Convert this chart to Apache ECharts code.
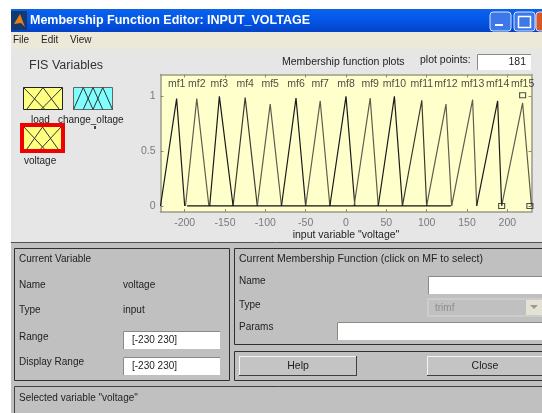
<!DOCTYPE html>
<html>
<head>
<meta charset="utf-8">
<script src="https://cdn.jsdelivr.net/npm/echarts@6/dist/echarts.min.js"></script>
<style>
html,body{margin:0;padding:0;background:#fff}
#main{width:542px;height:413px}
</style>
</head>
<body>
<div id="main"></div>
<script>
// values
const mfNames = ['mf1','mf2','mf3','mf4','mf5','mf6','mf7','mf8','mf9','mf10','mf11','mf12','mf13','mf14','mf15'];
const mfLeft  = [-230,-199,-169,-140,-110,-80,-50,-20,10,40,70,100,131,162,193];
const mfPeak  = [-210,-185,-157,-125,-94,-62,-32,0,30,60,94,124,157,188,219];
const mfRight = [-200,-170,-140,-110,-80,-50,-20,11,40,70,100,131,162,193,230];
const mfTop   = [0.98,0.98,1,0.99,0.93,0.985,0.96,1,0.985,1,0.965,0.93,0.97,0.96,0.94];
const baseX = [-197,130];
const handleX = [193,228,219];
const handleY = [0,0,1.01];
const xTicks = [-200,-150,-100,-50,0,50,100,150,200];
const yTicks = [0,0.5,1];
const labelLevel = 1.11;

// little icons in the FIS variables box
const iconLoad = [[[0,1],[0.55,0]],[[0.08,0],[0.5,1],[0.92,0]],[[0.45,0],[1,1]]];
const iconChange = [[[0,0],[0.25,1],[0.5,0]],[[0.25,0],[0.5,1],[0.75,0]],[[0.5,0],[0.75,1],[1,0]]];
const iconVoltage = [[[0,1],[0.55,0]],[[0.08,0],[0.5,1],[0.92,0]],[[0.45,0],[1,1]]];

const FONT = '"Liberation Sans", Arial, sans-serif';
const chart = echarts.init(document.getElementById('main'));

let gfx = [];
function box(x,y,w,h,fill,stroke,z){
    gfx.push({type:'rect',z:z||-10,silent:true,shape:{x:x,y:y,width:w,height:h},
        style:{fill:fill,stroke:stroke||null,lineWidth:stroke?1:0}});
}
function txt(x,y,s,size,color,align,weight){
    gfx.push({type:'text',z:-5,silent:true,x:x,y:y,style:{text:s,font:(weight||'normal')+' '+(size||10.5)+'px '+FONT,
        fill:color||'#222',textAlign:align||'left',textVerticalAlign:'middle'}});
}
function ln(x1,y1,x2,y2,c,z){
    gfx.push({type:'line',z:z||-8,silent:true,shape:{x1:x1,y1:y1,x2:x2,y2:y2},style:{stroke:c,lineWidth:1}});
}
// sunken white edit box
function edit(x,y,w,h,fill){
    box(x,y,w,h,fill||'#fff',null,-9);
    ln(x+.5,y+.5,x+w,y+.5,'#8a8a80');
    ln(x+.5,y+.5,x+.5,y+h,'#8a8a80');
}
// raised push button
function button(x,y,w,h,s){
    box(x,y,w,h,'#c4c4c4',null,-9);
    ln(x,y+.5,x+w,y+.5,'#f4f4f4');
    ln(x+.5,y,x+.5,y+h,'#f4f4f4');
    ln(x,y+h-.5,x+w,y+h-.5,'#404040');
    ln(x+w-.5,y,x+w-.5,y+h,'#404040');
    txt(x+w/2,y+h/2,s,10.5,'#222','center');
}

// window
box(11,9,531,23,{type:'linear',x:0,y:0,x2:0,y2:1,colorStops:[{offset:0,color:'#0a62ee'},{offset:.5,color:'#0356e6'},{offset:1,color:'#0443c8'}]});
box(11,32,531,17,'#ece9d8');
box(11,49,531,193,'#e6e6e6');
box(11,242,531,171,'#c0c0c0');
ln(11,242.5,542,242.5,'#505050');
// title bar
box(11,11,16,19,'#123a70',null,-9);
gfx.push({type:'polygon',z:-8,silent:true,shape:{points:[[14,24],[20,14],[25,27],[21,23]]},style:{fill:'#e8801a'}});
txt(30,20.5,'Membership Function Editor: INPUT_VOLTAGE',12.5,'#fff','left','bold');
[[490,'#3c78e8'],[514,'#3c78e8'],[536,'#d8562a']].forEach(function(b){
    gfx.push({type:'rect',z:-9,silent:true,shape:{x:b[0],y:12,width:21,height:19,r:3},style:{fill:b[1],stroke:'#d8e6fb',lineWidth:1}});
});
box(495,24,8,2,'#fff',null,-8);
gfx.push({type:'rect',z:-8,silent:true,shape:{x:518.5,y:16.5,width:12,height:11},style:{fill:null,stroke:'#fff',lineWidth:1.5}});
// menu
txt(13,40.5,'File',10);
txt(41,40.5,'Edit',10);
txt(70,40.5,'View',10);
// upper part
txt(29,65.5,'FIS Variables',12.5,'#333');
txt(31,120,'load',10);
txt(58,120,'change_oltage',10);
box(94,126,2,3,'#444',null,-5);
txt(24,161,'voltage',10);
txt(282,62.5,'Membership function plots',10.5);
txt(420,60,'plot points:',10.5);
edit(477,54,54,16);
txt(526,62.5,'181',10.5,'#222','right');

// lower part, left
box(14.5,248.5,215,132,null,'#303030',-8);
txt(19,259,'Current Variable',10,'#222');
txt(19,285,'Name',10,'#222');
txt(123,285,'voltage',10,'#222');
txt(19,310,'Type',10,'#222');
txt(123,310,'input',10,'#222');
txt(19,337,'Range',10,'#222');
txt(19,362,'Display Range',10,'#222');
edit(123,331,97,18);
txt(132,340,'[-230 230]',10,'#222');
edit(123,357,97,18);
txt(132,366,'[-230 230]',10,'#222');
// lower part, right
box(234.5,248.5,320,96,null,'#303030',-8);
txt(239,259,'Current Membership Function (click on MF to select)',10.5,'#222');
txt(239,281,'Name',10,'#222');
txt(239,305,'Type',10,'#222');
txt(239,327,'Params',10,'#222');
edit(428,276,114,18);
box(428,299,114,17,'#c0c0c0','#d8d8d8',-9);
txt(435,308,'trimf',10,'#8e8e8e');
box(526,300,16,15,'#e4e2d4',null,-8);
gfx.push({type:'polygon',z:-7,silent:true,shape:{points:[[530,305],[538,305],[534,309]]},style:{fill:'#9a9a90'}});
edit(337,322,205,18);
box(234.5,351.5,320,29,null,'#303030',-8);
button(239,356,118,20,'Help');
button(427,356,116,20,'Close');
// status line
box(14.5,386.5,540,40,null,'#404040',-8);
txt(19,398,'Selected variable "voltage"',10,'#222');

// icon red frame
box(22,125,41,26,'#ffff80','#f00000',-9);
gfx[gfx.length-1].style.lineWidth = 4;

function iconAxes(i){
    return {
        x:{gridIndex:i,type:'value',min:0,max:1,show:false},
        y:{gridIndex:i,type:'value',min:0,max:1,show:false}
    };
}
const frameLine = {onZero:false,lineStyle:{color:'#9a9a8c',width:1.5}};
const frameTick = function(vals){
    return {inside:true,length:3,lineStyle:{color:'#8a8a7c'},customValues:vals};
};
const xAxes = [
    {gridIndex:0,type:'value',min:-230,max:230,position:'bottom',
     name:'input variable "voltage"',nameLocation:'middle',nameGap:15,
     nameTextStyle:{color:'#222',fontSize:10.5,fontFamily:FONT},
     splitLine:{show:false},axisLine:frameLine,axisTick:frameTick(xTicks),
     axisLabel:{color:'#7a7a7a',fontSize:10.5,fontFamily:FONT,margin:6,customValues:xTicks}},
    {gridIndex:0,type:'value',min:-230,max:230,position:'top',
     splitLine:{show:false},axisLine:frameLine,axisTick:frameTick(xTicks),
     axisLabel:{show:false}}
];
const yAxes = [
    {gridIndex:0,type:'value',min:-0.055,max:1.2,position:'left',
     splitLine:{show:false},axisLine:frameLine,axisTick:frameTick(yTicks),
     axisLabel:{color:'#7a7a7a',fontSize:10.5,fontFamily:FONT,margin:5,customValues:yTicks}},
    {gridIndex:0,type:'value',min:-0.055,max:1.2,position:'right',
     splitLine:{show:false},axisLine:frameLine,axisTick:frameTick(yTicks),
     axisLabel:{show:false}}
];
[1,2,3].forEach(function(i){
    const a = iconAxes(i);
    xAxes.push(a.x);
    yAxes.push(a.y);
});

let series = [];
const mfColors = ['#1a1a1a','#5e5e4c','#1a1a1a','#3a3a30','#5e5e4c','#1a1a1a','#5e5e4c','#1a1a1a','#5e5e4c','#1a1a1a','#3a3a30','#5e5e4c','#5e5e4c','#1a1a1a','#5e5e4c'];
mfNames.forEach(function(n,i){
    series.push({type:'line',name:n,xAxisIndex:0,yAxisIndex:0,symbol:'none',silent:true,z:3,
        lineStyle:{color:mfColors[i],width:1.2},
        data:[[mfLeft[i],0],[mfPeak[i],mfTop[i]],[mfRight[i],0]]});
});
series.push({type:'line',xAxisIndex:0,yAxisIndex:0,symbol:'none',silent:true,z:3,
    lineStyle:{color:'#111',width:1.2},
    data:baseX.map(function(x){return [x,0];})});
series.push({type:'scatter',xAxisIndex:0,yAxisIndex:0,symbol:'rect',symbolSize:[6,5],silent:true,z:4,
    itemStyle:{color:'rgba(0,0,0,0)',borderColor:'#222',borderWidth:1},
    data:handleX.map(function(x,i){return [x,handleY[i]];})});
series.push({type:'scatter',xAxisIndex:0,yAxisIndex:0,symbolSize:1,silent:true,z:4,
    itemStyle:{color:'rgba(0,0,0,0)'},
    label:{show:true,position:'inside',color:'#222',fontSize:10.5,fontFamily:FONT,
        formatter:function(p){return mfNames[p.dataIndex];}},
    data:mfPeak.map(function(x){return [x,labelLevel];})});

function addIcon(idx,lines,color){
    lines.forEach(function(d){
        series.push({type:'line',xAxisIndex:idx+1,yAxisIndex:idx+1,symbol:'none',silent:true,z:3,
            lineStyle:{color:color,width:1},data:d});
    });
}
addIcon(1,iconLoad,'#333');
addIcon(2,iconChange,'#333');
addIcon(3,iconVoltage,'#333');

chart.setOption({
    backgroundColor:'#fff',
    animation:false,
    graphic:{elements:gfx},
    grid:[
        {left:160.5,top:74.5,width:371,height:137.5,show:true,backgroundColor:'#ffffcc',borderWidth:0},
        {left:23.5,top:87.5,width:39,height:22,show:true,backgroundColor:'#ffff80',borderColor:'#222',borderWidth:1},
        {left:73.5,top:87.5,width:39,height:22,show:true,backgroundColor:'#80ffff',borderColor:'#666',borderWidth:1},
        {left:24,top:127,width:37,height:22,show:false}
    ],
    xAxis:xAxes,
    yAxis:yAxes,
    series:series
});
</script>
</body>
</html>
